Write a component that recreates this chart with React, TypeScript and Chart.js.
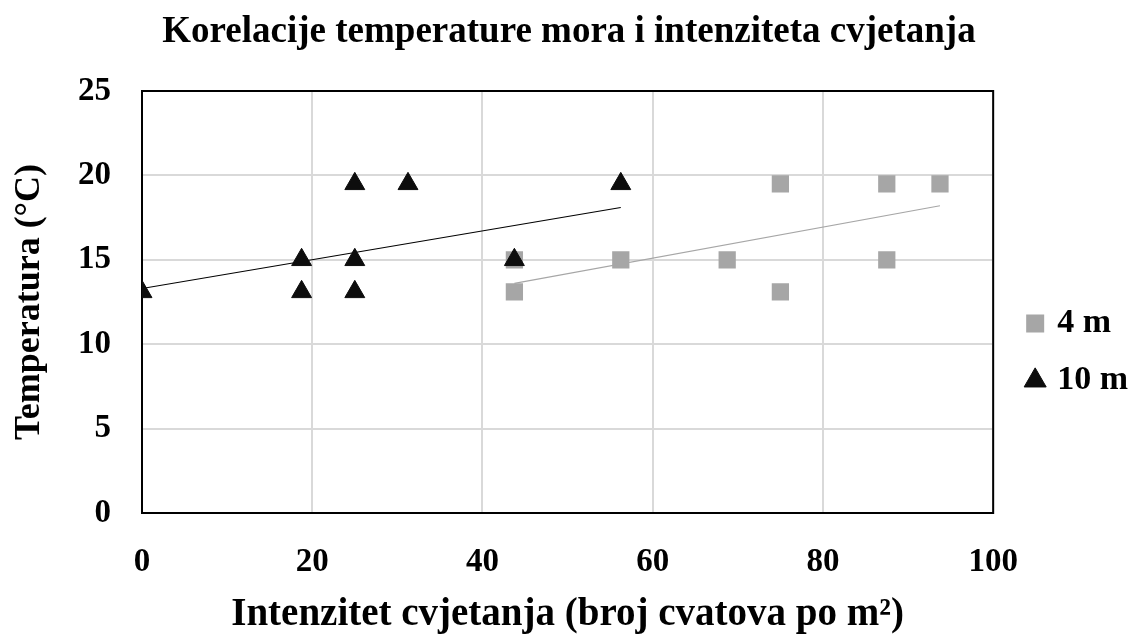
import React, { useEffect, useRef } from 'react';
import { Chart, registerables } from 'chart.js';

Chart.register(...registerables);

const FONT = '"Liberation Serif", "Times New Roman", serif';

const titleText = 'Korelacije temperature mora i intenziteta cvjetanja';
const xTitle = 'Intenzitet cvjetanja (broj cvatova po m²)';
const yTitle = 'Temperatura (°C)';
const seriesLabels = ['4 m', '10 m'];

const depth4X = [43.75, 43.75, 56.25, 68.75, 75, 75, 87.5, 87.5, 93.75];
const depth4Y = [15, 13.1, 15, 15, 19.5, 13.1, 19.5, 15, 19.5];

const depth10X = [0, 18.75, 18.75, 25, 25, 25, 31.25, 43.75, 56.25];
const depth10Y = [13.1, 15, 13.1, 19.5, 15, 13.1, 19.5, 15, 19.5];

const trend4X = [43.75, 93.75];
const trend4Y = [13.6, 18.2];
const trend10X = [0, 56.25];
const trend10Y = [13.3, 18.1];

const xMin = 0, xMax = 100, xStep = 20;
const yMin = 0, yMax = 25, yStep = 5;

const toPoints = (xs: number[], ys: number[]) => xs.map((x, i) => ({ x, y: ys[i] }));

export default function App() {
  const ref = useRef<HTMLCanvasElement>(null);

  useEffect(() => {
    if (!ref.current) return;
    const frame = {
      id: 'frame',
      beforeDatasetsDraw(chart: any) {
        const { ctx, chartArea: a } = chart;
        ctx.save();
        ctx.strokeStyle = '#000';
        ctx.lineWidth = 2;
        ctx.strokeRect(a.left, a.top, a.right - a.left, a.bottom - a.top);
        ctx.restore();
      },
    };
    const chart = new Chart(ref.current, {
      type: 'scatter',
      data: {
        datasets: [
          {
            label: seriesLabels[1],
            data: toPoints(depth10X, depth10Y),
            pointStyle: 'triangle',
            pointRadius: 11.5,
            backgroundColor: '#0D0D0D',
            borderColor: '#0D0D0D',
            borderWidth: 1,
          },
          {
            label: seriesLabels[0],
            data: toPoints(depth4X, depth4Y),
            pointStyle: 'rect',
            pointRadius: 12.2,
            backgroundColor: '#A6A6A6',
            borderColor: '#A6A6A6',
            borderWidth: 0,
          },
          {
            label: 'trend10',
            type: 'line',
            data: toPoints(trend10X, trend10Y),
            showLine: true,
            pointRadius: 0,
            borderColor: '#000000',
            borderWidth: 1.2,
            fill: false,
          },
          {
            label: 'trend4',
            type: 'line',
            data: toPoints(trend4X, trend4Y),
            showLine: true,
            pointRadius: 0,
            borderColor: '#A6A6A6',
            borderWidth: 1.2,
            fill: false,
          },
        ] as any,
      },
      options: {
        responsive: false,
        animation: false,
        layout: { padding: { right: 0, left: 0, top: 0, bottom: 0 } },
        plugins: {
          title: {
            display: true,
            text: titleText,
            color: '#000',
            font: { family: FONT, size: 37, weight: 'bold' },
            padding: { top: 10, bottom: 36.6 },
          },
          legend: {
            position: 'right',
            title: { display: true, text: '', padding: { top: 68, bottom: 0 }, font: { size: 1 } },
            labels: {
              usePointStyle: true,
              boxWidth: 10,
              boxHeight: 18,
              padding: 23,
              color: '#000',
              font: { family: FONT, size: 34, weight: 'bold' },
              filter: (item: any) => item.datasetIndex < 2,
              sort: (a: any, b: any) => b.datasetIndex - a.datasetIndex,
            },
          },
          tooltip: { enabled: false },
        },
        scales: {
          x: {
            type: 'linear',
            min: xMin,
            max: xMax,
            ticks: {
              stepSize: xStep,
              color: '#000',
              padding: 30,
              font: { family: FONT, size: 33, weight: 'bold' },
            },
            grid: { color: '#D9D9D9', lineWidth: 2, drawTicks: false },
            border: { display: false },
            title: {
              display: true,
              text: xTitle,
              color: '#000',
              font: { family: FONT, size: 39, weight: 'bold' },
              padding: { top: 0, bottom: -3 },
            },
            afterFit: (s: any) => { s.height = 122; },
          },
          y: {
            type: 'linear',
            min: yMin,
            max: yMax,
            ticks: {
              stepSize: yStep,
              color: '#000',
              padding: 31,
              font: { family: FONT, size: 33, weight: 'bold' },
            },
            grid: { color: '#D9D9D9', lineWidth: 2, drawTicks: false },
            border: { display: false },
            title: {
              display: true,
              text: yTitle,
              color: '#000',
              font: { family: FONT, size: 36, weight: 'bold' },
              padding: { top: 8, bottom: 0 },
            },
            afterFit: (s: any) => { s.width = 142; },
          },
          yR: {
            type: 'linear',
            position: 'right',
            min: yMin,
            max: yMax,
            display: true,
            grid: { display: false, drawTicks: false },
            border: { display: false },
            ticks: { display: false },
            afterFit: (s: any) => { s.width = 14; },
          },
        },
      } as any,
      plugins: [frame],
    });
    return () => chart.destroy();
  }, []);

  return (
    <div style={{ position: 'fixed', left: 0, top: 0, width: 1138, height: 635, background: '#fff' }}>
      <canvas ref={ref} width={1138} height={635} style={{ display: 'block' }} />
    </div>
  );
}
